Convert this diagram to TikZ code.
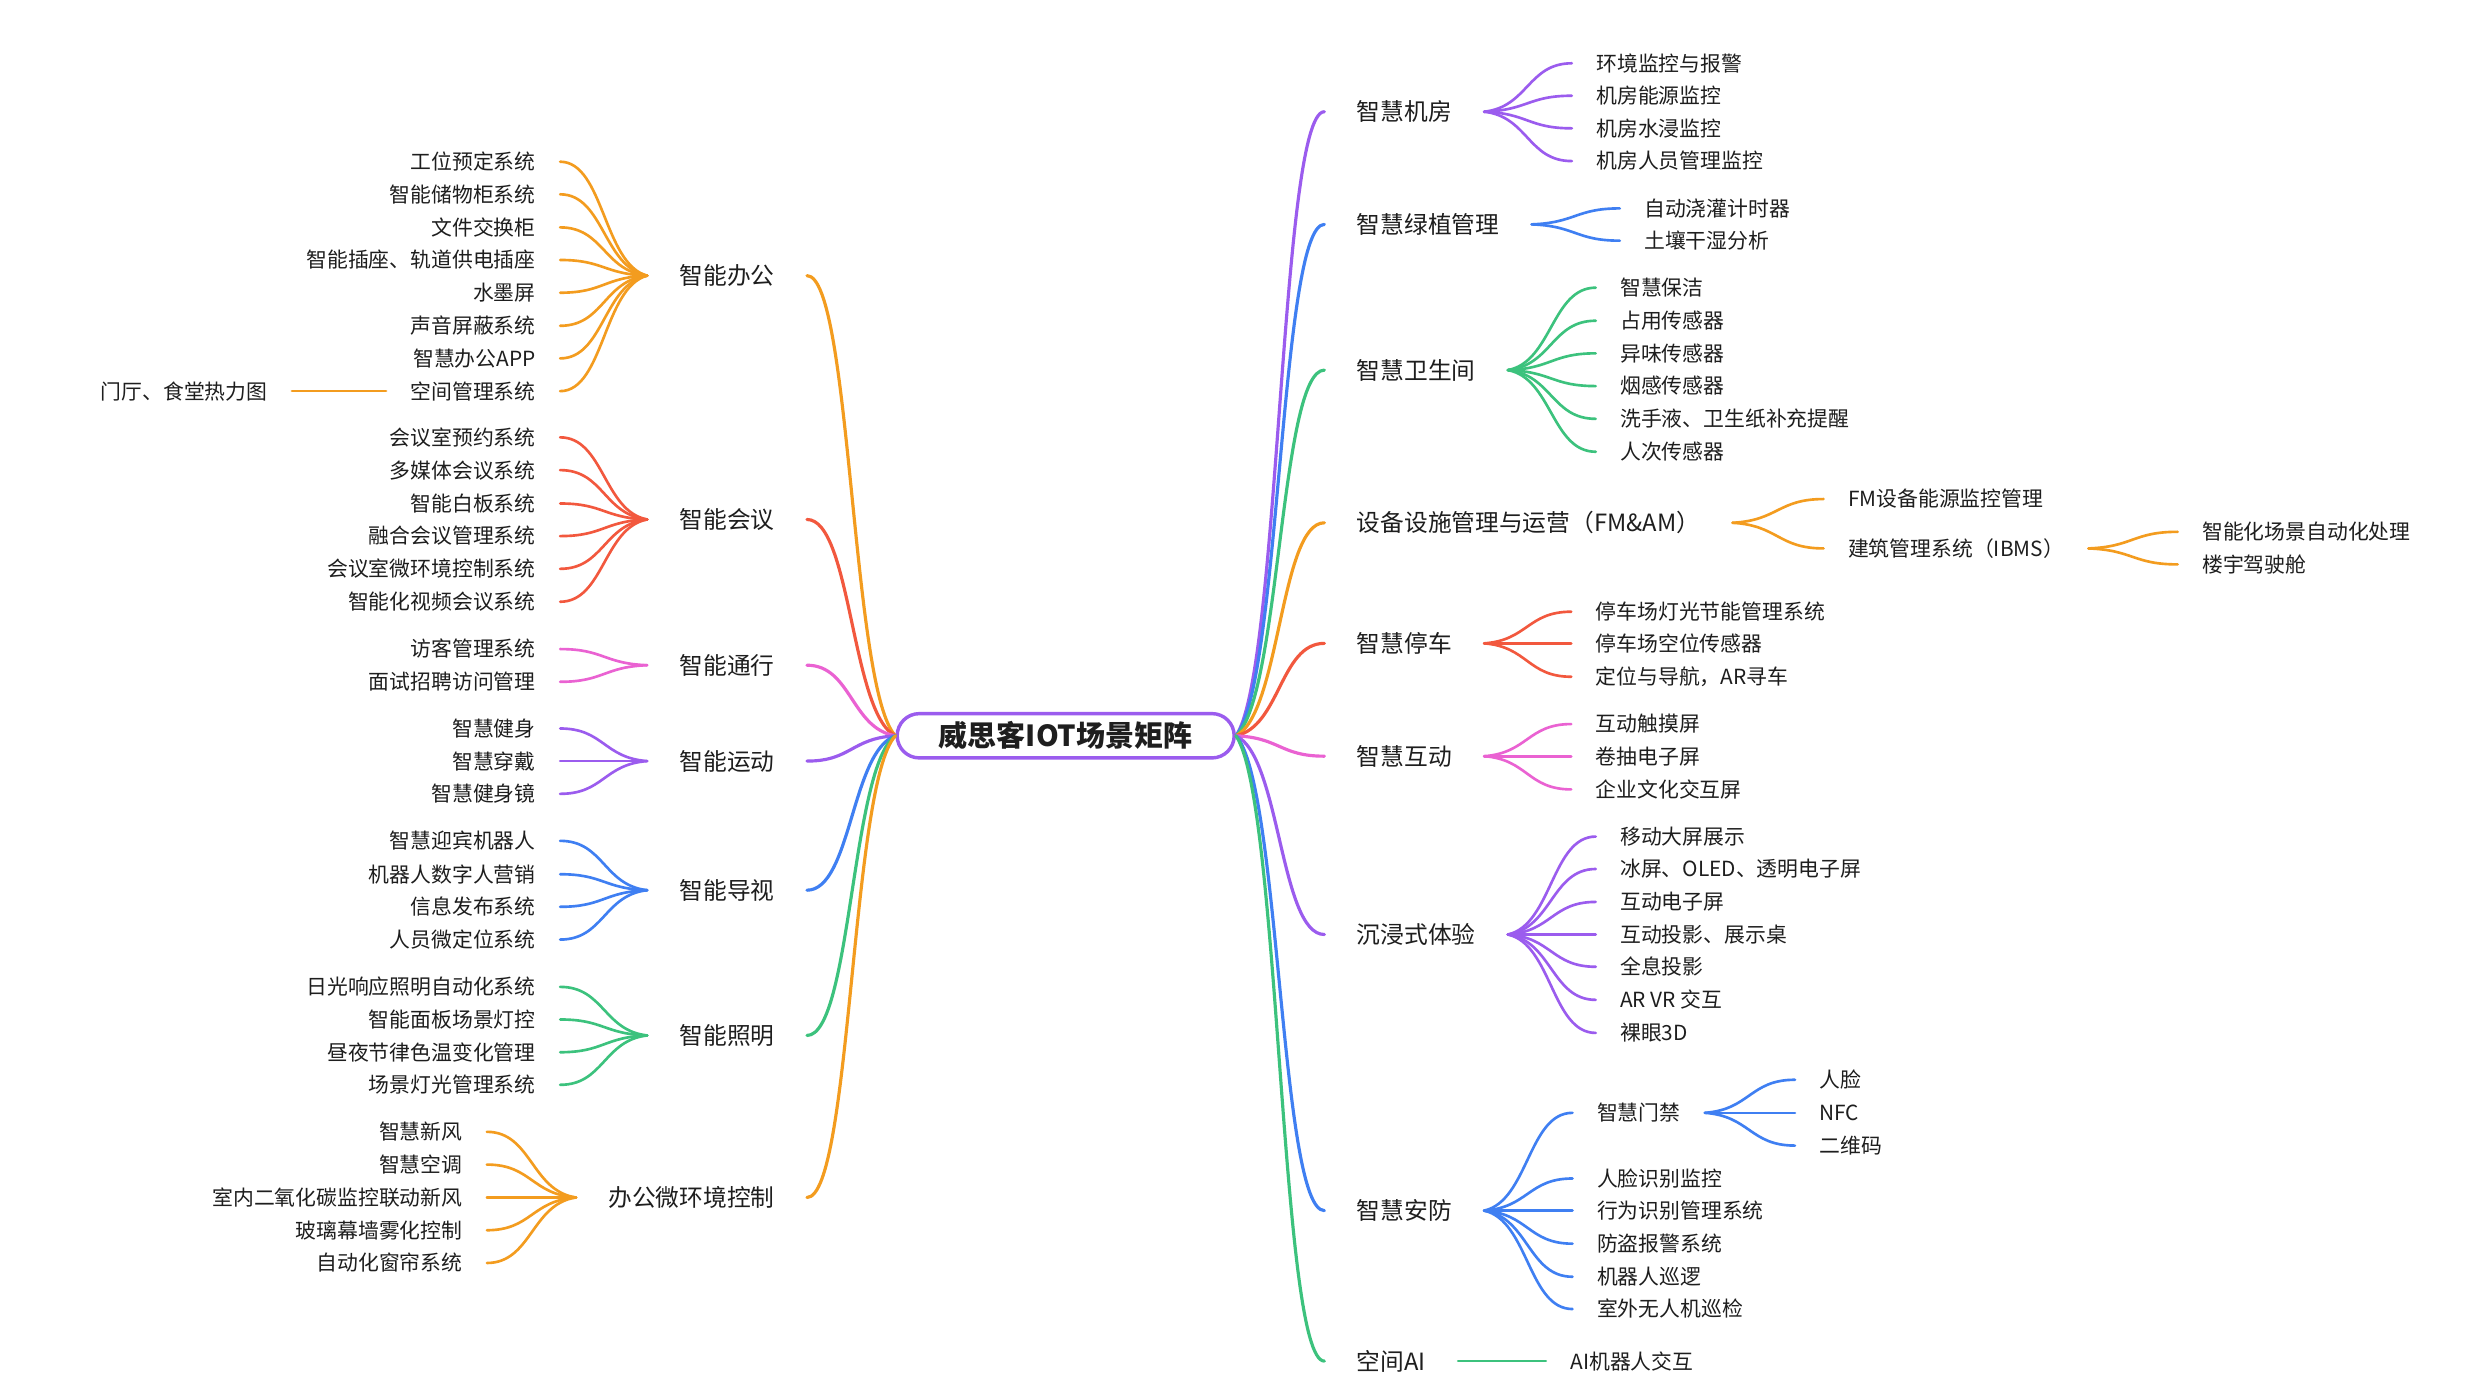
\documentclass[tikz,border=0pt]{standalone}
\usepackage{fontspec}
\setmainfont{Noto Sans CJK SC}
\usetikzlibrary{calc}
\definecolor{cOr}{HTML}{F39C1F}
\definecolor{cRd}{HTML}{F2583E}
\definecolor{cPk}{HTML}{EA62D2}
\definecolor{cPu}{HTML}{9B5CEE}
\definecolor{cBl}{HTML}{3F7FF2}
\definecolor{cGn}{HTML}{3CC27D}
\definecolor{txt}{HTML}{1E1E1E}
\newcommand\mmlink[3]{\draw[#1] let \p1=(#2), \p2=(#3) in (\p1) .. controls ({0.5*\x1+0.5*\x2},{0.9*\y1+0.1*\y2}) and ({0.5*\x1+0.5*\x2},\y2) .. (\p2);}
\newcommand\LB[4]{\node[br,anchor=east] (#1) at (510,#2) {#3}; \mmlink{mlk,draw=#4}{root.west}{#1.east}}
\newcommand\RB[4]{\node[br,anchor=west] (#1) at (837,#2) {#3}; \mmlink{mlk,draw=#4}{root.east}{#1.west}}
\newcommand\LL[6]{\node[leaf,anchor=east] (#1) at (#2,#3) {#4}; \mmlink{lk,draw=#6}{#5.west}{#1.east}}
\newcommand\RL[6]{\node[leaf,anchor=west] (#1) at (#2,#3) {#4}; \mmlink{lk,draw=#6}{#5.east}{#1.west}}
\begin{document}
\begin{tikzpicture}[x=0.6pt,y=-0.6pt,
  leaf/.style={font=\fontsize{7.9}{9}\selectfont, text=txt, text height=6.95pt, text depth=0.95pt, inner xsep=9.3pt, inner ysep=0pt, outer sep=0pt},
  br/.style={font=\fontsize{9}{11}\selectfont, text=txt, text height=7.92pt, text depth=1.08pt, inner xsep=12.3pt, inner ysep=0pt, outer sep=0pt},
  lk/.style={line width=1pt, line cap=round},
  mlk/.style={line width=1.2pt, line cap=round},
  rootn/.style={draw=cPu, line width=1.3pt, rounded corners=8.4pt, minimum width=127.8pt, minimum height=16.8pt, inner sep=0pt, text=txt, font=\bfseries\fontsize{11}{13}\selectfont}]
\fill[white] (0,0) rectangle (1568,882);
\useasboundingbox (0,0) rectangle (1568,882);
\node[rootn] (root) at (673.5,465) {威思客IOT场景矩阵};
% ---------- left ----------
\LB{b1}{174.2}{智能办公}{cOr}
\LL{a1}{354}{102.2}{工位预定系统}{b1}{cOr}
\LL{a2}{354}{122.8}{智能储物柜系统}{b1}{cOr}
\LL{a3}{354}{143.7}{文件交换柜}{b1}{cOr}
\LL{a4}{354}{164.3}{智能插座、轨道供电插座}{b1}{cOr}
\LL{a5}{354}{185}{水墨屏}{b1}{cOr}
\LL{a6}{354}{205.9}{声音屏蔽系统}{b1}{cOr}
\LL{a7}{354}{226.5}{智慧办公APP}{b1}{cOr}
\LL{a8}{354}{247.2}{空间管理系统}{b1}{cOr}
\node[leaf,anchor=east] (a8x) at (184.5,247.2) {门厅、食堂热力图};
\draw[lk,draw=cOr] (a8.west) -- (a8x.east);
\LB{b2}{328.3}{智能会议}{cRd}
\LL{c1}{354}{276.4}{会议室预约系统}{b2}{cRd}
\LL{c2}{354}{297.1}{多媒体会议系统}{b2}{cRd}
\LL{c3}{354}{318.2}{智能白板系统}{b2}{cRd}
\LL{c4}{354}{338.8}{融合会议管理系统}{b2}{cRd}
\LL{c5}{354}{359.5}{会议室微环境控制系统}{b2}{cRd}
\LL{c6}{354}{380.3}{智能化视频会议系统}{b2}{cRd}
\LB{b3}{420.4}{智能通行}{cPk}
\LL{d1}{354}{410.2}{访客管理系统}{b3}{cPk}
\LL{d2}{354}{430.9}{面试招聘访问管理}{b3}{cPk}
\LB{b4}{481}{智能运动}{cPu}
\LL{f1}{354}{460.4}{智慧健身}{b4}{cPu}
\LL{f2}{354}{481}{智慧穿戴}{b4}{cPu}
\LL{f3}{354}{501.7}{智慧健身镜}{b4}{cPu}
\LB{b5}{562.6}{智能导视}{cBl}
\LL{g1}{354}{531.4}{智慧迎宾机器人}{b5}{cBl}
\LL{g2}{354}{552.5}{机器人数字人营销}{b5}{cBl}
\LL{g3}{354}{573.1}{信息发布系统}{b5}{cBl}
\LL{g4}{354}{593.8}{人员微定位系统}{b5}{cBl}
\LB{b6}{654.4}{智能照明}{cGn}
\LL{h1}{354}{623.7}{日光响应照明自动化系统}{b6}{cGn}
\LL{h2}{354}{644.3}{智能面板场景灯控}{b6}{cGn}
\LL{h3}{354}{665}{昼夜节律色温变化管理}{b6}{cGn}
\LL{h4}{354}{685.6}{场景灯光管理系统}{b6}{cGn}
\LB{b7}{756.8}{办公微环境控制}{cOr}
\LL{k1}{307.7}{715.3}{智慧新风}{b7}{cOr}
\LL{k2}{307.7}{736}{智慧空调}{b7}{cOr}
\LL{k3}{307.7}{756.8}{室内二氧化碳监控联动新风}{b7}{cOr}
\LL{k4}{307.7}{777.5}{玻璃幕墙雾化控制}{b7}{cOr}
\LL{k5}{307.7}{798.2}{自动化窗帘系统}{b7}{cOr}
% ---------- right ----------
\RB{r1}{70.6}{智慧机房}{cPu}
\RL{e1}{993.4}{40}{环境监控与报警}{r1}{cPu}
\RL{e2}{993.4}{60.5}{机房能源监控}{r1}{cPu}
\RL{e3}{993.4}{81.1}{机房水浸监控}{r1}{cPu}
\RL{e4}{993.4}{101.8}{机房人员管理监控}{r1}{cPu}
\RB{r2}{141.8}{智慧绿植管理}{cBl}
\RL{m1}{1023.7}{131.7}{自动浇灌计时器}{r2}{cBl}
\RL{m2}{1023.7}{152.1}{土壤干湿分析}{r2}{cBl}
\RB{r3}{233.9}{智慧卫生间}{cGn}
\RL{n1}{1008.5}{181.8}{智慧保洁}{r3}{cGn}
\RL{n2}{1008.5}{202.7}{占用传感器}{r3}{cGn}
\RL{n3}{1008.5}{223.3}{异味传感器}{r3}{cGn}
\RL{n4}{1008.5}{244}{烟感传感器}{r3}{cGn}
\RL{n5}{1008.5}{264.7}{洗手液、卫生纸补充提醒}{r3}{cGn}
\RL{n6}{1008.5}{285.5}{人次传感器}{r3}{cGn}
\RB{r4}{330.4}{设备设施管理与运营（FM\&AM）}{cOr}
\RL{p1}{1152.5}{315.4}{FM设备能源监控管理}{r4}{cOr}
\RL{p2}{1152.5}{346.6}{建筑管理系统（IBMS）}{r4}{cOr}
\RL{q1}{1376.3}{336.1}{智能化场景自动化处理}{p2}{cOr}
\RL{q2}{1376.3}{356.7}{楼宇驾驶舱}{p2}{cOr}
\RB{r5}{406.6}{智慧停车}{cRd}
\RL{s1}{993}{386.6}{停车场灯光节能管理系统}{r5}{cRd}
\RL{s2}{993}{406.6}{停车场空位传感器}{r5}{cRd}
\RL{s3}{993}{427.7}{定位与导航，AR寻车}{r5}{cRd}
\RB{r6}{477.9}{智慧互动}{cPk}
\RL{t1}{993}{457.6}{互动触摸屏}{r6}{cPk}
\RL{t2}{993}{477.9}{卷抽电子屏}{r6}{cPk}
\RL{t3}{993}{498.9}{企业文化交互屏}{r6}{cPk}
\RB{r7}{590.6}{沉浸式体验}{cPu}
\RL{u1}{1008.5}{528.7}{移动大屏展示}{r7}{cPu}
\RL{u2}{1008.5}{549.2}{冰屏、OLED、透明电子屏}{r7}{cPu}
\RL{u3}{1008.5}{570}{互动电子屏}{r7}{cPu}
\RL{u4}{1008.5}{590.6}{互动投影、展示桌}{r7}{cPu}
\RL{u5}{1008.5}{611}{全息投影}{r7}{cPu}
\RL{u6}{1008.5}{631.9}{AR VR 交互}{r7}{cPu}
\RL{u7}{1008.5}{652.8}{裸眼3D}{r7}{cPu}
\RB{r8}{765.1}{智慧安防}{cBl}
\RL{v1}{993.8}{703.3}{智慧门禁}{r8}{cBl}
\RL{v2}{993.8}{744.8}{人脸识别监控}{r8}{cBl}
\RL{v3}{993.8}{765.1}{行为识别管理系统}{r8}{cBl}
\RL{v4}{993.8}{786}{防盗报警系统}{r8}{cBl}
\RL{v5}{993.8}{806.9}{机器人巡逻}{r8}{cBl}
\RL{v6}{993.8}{827.3}{室外无人机巡检}{r8}{cBl}
\RL{w1}{1134.4}{682.4}{人脸}{v1}{cBl}
\RL{w2}{1134.4}{703.3}{NFC}{v1}{cBl}
\RL{w3}{1134.4}{724}{二维码}{v1}{cBl}
\RB{r9}{860.2}{空间AI}{cGn}
\node[leaf,anchor=west] (r9a) at (977,860.2) {AI机器人交互};
\draw[lk,draw=cGn] (r9.east) -- (r9a.west);
\end{tikzpicture}
\end{document}
